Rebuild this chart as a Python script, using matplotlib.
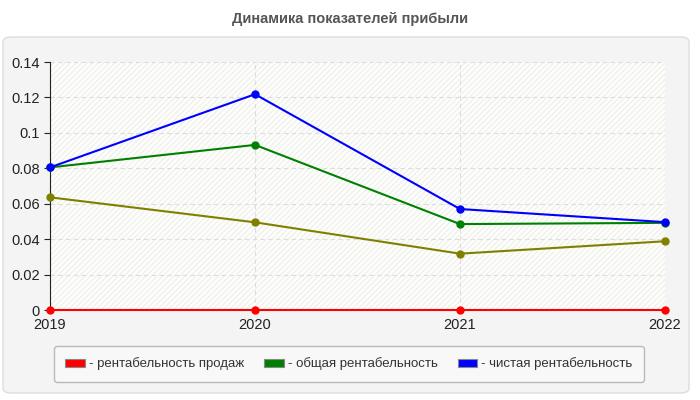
import numpy as np
import matplotlib.pyplot as plt
from matplotlib.patches import FancyBboxPatch, Patch

years = ["2019", "2020", "2021", "2022"]
sales = [0, 0, 0, 0]
other = [0.0636, 0.0495, 0.0318, 0.0388]
total = [0.0805, 0.0932, 0.0485, 0.0492]
net = [0.0805, 0.1218, 0.0570, 0.0496]
yticks = [0, 0.02, 0.04, 0.06, 0.08, 0.1, 0.12, 0.14]
ytick_labels = ["0", "0.02", "0.04", "0.06", "0.08", "0.1", "0.12", "0.14"]

plt.rcParams['font.family'] = ['Liberation Sans', 'DejaVu Sans']
fig = plt.figure(figsize=(7, 4), dpi=100)
fig.patch.set_facecolor("white")

panel = FancyBboxPatch((3 / 700, 7 / 400), 686 / 700, 356 / 400,
                       boxstyle="round,pad=0,rounding_size=0.012",
                       transform=fig.transFigure, facecolor="#f4f4f4",
                       edgecolor="#dddddd", linewidth=1, zorder=-5)
fig.patches.append(panel)

fig.text(0.5, 1 - 19 / 400, "Динамика показателей прибыли", ha="center", va="center",
         fontsize=10.5, fontweight="bold", color="#555555")

ax = fig.add_axes([50 / 700, 1 - 310 / 400, 615 / 700, 248 / 400])
ax.set_zorder(2)
ax.set_facecolor("#fefefa")
ax.fill_between([0, 3], 0, 0.14, facecolor="none", edgecolor="#f0f0f0",
                hatch="//////", linewidth=0, zorder=0)
x = np.arange(len(years))
for vals, c in [(other, "#808000"), (total, "#008000"), (net, "#0000ff"), (sales, "#ff0000")]:
    ax.plot(x, vals, color=c, lw=1.5, marker="o", ms=5, clip_on=False, zorder=3)

ax.set_xlim(0, 3)
ax.set_ylim(0, 0.14)
ax.set_xticks(x)
ax.set_xticklabels(years)
ax.set_yticks(yticks)
ax.set_yticklabels(ytick_labels)
ax.grid(True, color="#dddddd", linestyle=(0, (4, 3)), lw=0.8)
ax.tick_params(labelsize=10.5, colors="#222222", length=4)
ax.tick_params(axis="x", length=0, pad=6)
for s in ["top", "right"]:
    ax.spines[s].set_visible(False)
ax.spines["left"].set_color("#222222")
ax.spines["bottom"].set_visible(False)

handles = [Patch(facecolor=c, edgecolor="#888888", linewidth=0.8) for c in ["#ff0000", "#008000", "#0000ff"]]
labels = ["- рентабельность продаж", "- общая рентабельность", "- чистая рентабельность"]
leg = fig.legend(handles, labels, loc="center", bbox_to_anchor=(349 / 700, 1 - 364 / 400),
                 ncol=3, fontsize=9.5, frameon=True, handlelength=1.5, handleheight=0.6,
                 handletextpad=0.3, columnspacing=1.5, borderpad=0.85, fancybox=True)
leg.set_zorder(3)
leg.get_frame().set_facecolor("#fafafa")
leg.get_frame().set_edgecolor("#aaaaaa")
for t in leg.get_texts():
    t.set_color("#333333")

fig.savefig("out.png", dpi=100)
